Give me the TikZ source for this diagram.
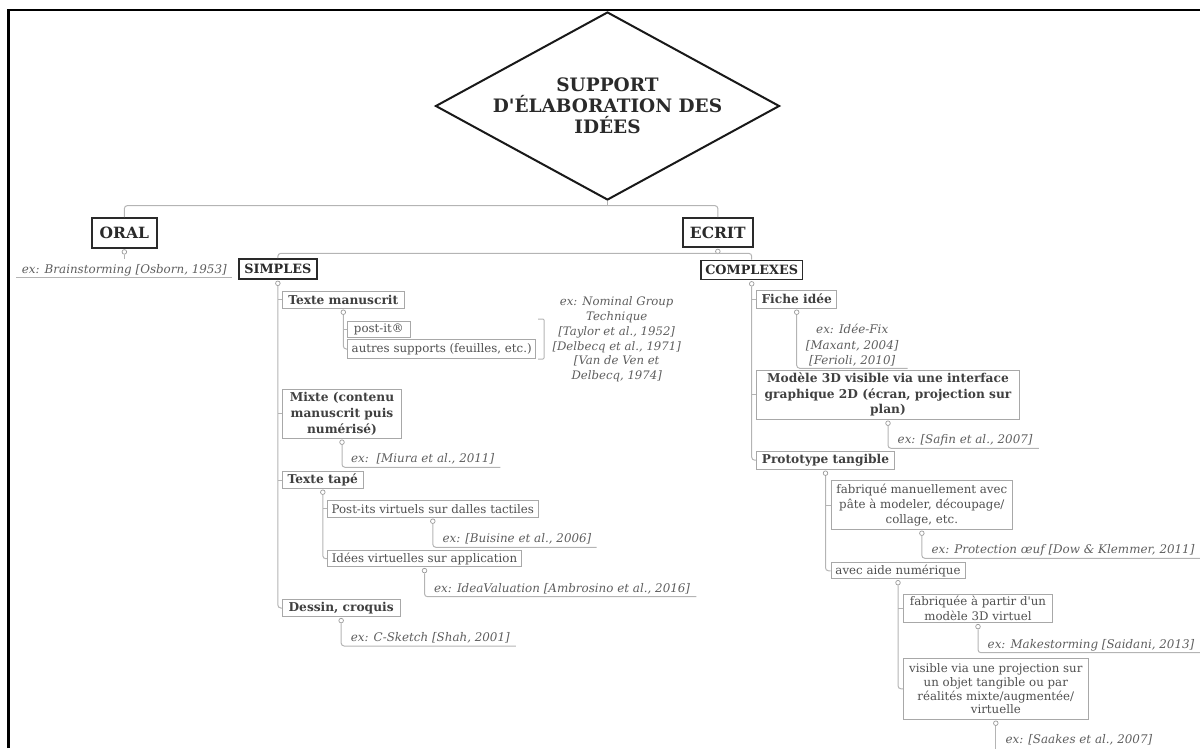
\documentclass[tikz,border=0pt]{standalone}
\usepackage{fontspec}
\setmainfont{DejaVu Serif}[Ligatures=TeXOff]
\usetikzlibrary{shapes.geometric}
\definecolor{dk}{HTML}{2A2A2A}
\definecolor{tb}{HTML}{404040}
\definecolor{tr}{HTML}{505050}
\definecolor{bx}{HTML}{A8A8A8}
\definecolor{ln}{HTML}{B4B4B4}
\definecolor{exc}{HTML}{5E5E5E}
\definecolor{dotc}{HTML}{9A9A9A}
\begin{document}
\begin{tikzpicture}[x=1pt,y=-1pt,
  mainbox/.style={draw=dk, line width=2pt, fill=white, text=dk, inner sep=0pt,
    font=\fontsize{15.5}{18}\selectfont\bfseries},
  capbox/.style={mainbox, line width=1.8pt, font=\fontsize{12.8}{15}\selectfont\bfseries},
  subb/.style={draw=bx, line width=1pt, fill=white, text=tb, inner sep=0pt, align=center,
    font=\fontsize{12.2}{15.6}\selectfont\bfseries},
  subr/.style={subb, text=tr, font=\fontsize{11.8}{14.8}\selectfont},
  extxt/.style={text=exc, font=\fontsize{11.9}{15.7}\selectfont\itshape, inner xsep=0pt,
    inner ysep=1pt, text height=9pt, text depth=3.5pt, anchor=south west},
  exmulti/.style={text=exc, inner xsep=0pt, inner ysep=1.5pt, align=center},
  conn/.style={draw=ln, line width=1pt, rounded corners=3pt},
  dotn/.style={circle, draw=dotc, fill=white, line width=0.7pt, inner sep=0pt, minimum size=4.6pt}
]
\useasboundingbox (0,0) rectangle (1200,748);
% frame
\draw[black, line width=2.6pt] (8.7,748) -- (8.7,10) -- (1200,10);

% root
\node[diamond, draw=black!90, line width=2pt, fill=white, inner sep=0pt, aspect=1.83,
  minimum width=344pt, minimum height=188pt, align=center, text=dk,
  font=\fontsize{18.5}{21}\selectfont\bfseries] (root) at (607.5,106)
  {SUPPORT\\D'ÉLABORATION DES\\IDÉES};
\coordinate (rj) at (607.5,205.6);

% level 1
\node[mainbox, minimum width=64.7pt, minimum height=29.5pt] (oral) at (124.35,232.75) {ORAL};
\node[mainbox, minimum width=69.7pt, minimum height=29pt] (ecrit) at (717.85,232.5) {ECRIT};
\node[dotn] (d-oral) at ([yshift=-3.4pt]oral.south) {};
\node[dotn] (d-ecrit) at ([yshift=-3.4pt]ecrit.south) {};
\node[text=exc, font=\fontsize{11.9}{15.7}\selectfont\itshape, inner xsep=5.5pt, inner ysep=1pt,
  text height=13pt, text depth=3.5pt, anchor=south] (e-oral) at (124.35,277.7)
  {ex: Brainstorming [Osborn, 1953]};
\coordinate (ej) at (717.85,253.3);

% level 2
\node[capbox, minimum width=77.7pt, minimum height=20pt] (simples) at (277.85,269) {SIMPLES};
\node[capbox, minimum width=101.4pt, minimum height=19pt] (complexes) at (751.7,270) {COMPLEXES};
\node[dotn] (d-simples) at ([yshift=-3.4pt]simples.south) {};
\node[dotn] (d-complexes) at ([yshift=-3.4pt]complexes.south) {};

% SIMPLES branch
\node[subb, minimum width=122pt, minimum height=17.3pt] (tm) at (343.3,299.65) {Texte manuscrit};
\node[dotn] (d-tm) at ([yshift=-3.4pt]tm.south) {};
\node[subr, minimum width=62.3pt, minimum height=16pt] (pi) at (378.85,329.5) {post-it®};
\node[subr, minimum width=188pt, minimum height=19pt] (au) at (441.7,349) {autres supports (feuilles, etc.)};
\node[exmulti, font=\fontsize{11.7}{14.7}\selectfont\itshape] (ng) at (616.7,339.5)
  {ex: Nominal Group\\Technique\\{[}Taylor et al., 1952{]}\\{[}Delbecq et al., 1971{]}\\{[}Van de Ven et\\Delbecq, 1974{]}};

\node[subb, minimum width=119.4pt, minimum height=49pt] (mx) at (342,413.8) {Mixte (contenu\\manuscrit puis\\numérisé)};
\node[dotn] (d-mx) at ([yshift=-3.4pt]mx.south) {};
\node[extxt] (e-mx) at (342,467.3) {\hspace*{9pt}ex:\ \ [Miura et al., 2011]\hspace*{6pt}};

\node[subb, minimum width=81pt, minimum height=16.6pt] (tt) at (322.8,480) {Texte tapé};
\node[dotn] (d-tt) at ([yshift=-3.4pt]tt.south) {};
\node[subr, minimum width=211pt, minimum height=17.3pt] (pv) at (432.8,508.65) {Post-its virtuels sur dalles tactiles};
\node[dotn] (d-pv) at ([yshift=-3.4pt]pv.south) {};
\node[extxt] (e-pv) at (432.8,547.3) {\hspace*{9.5pt}ex: [Buisine et al., 2006]\hspace*{5pt}};
\node[subr, minimum width=194.4pt, minimum height=16pt] (iv) at (424.5,558.7) {Idées virtuelles sur application};
\node[dotn] (d-iv) at ([yshift=-3.4pt]iv.south) {};
\node[extxt] (e-iv) at (424.5,596.7) {\hspace*{9.5pt}ex: IdeaValuation [Ambrosino et al., 2016]\hspace*{6pt}};

\node[subb, minimum width=117.7pt, minimum height=17.4pt] (dc) at (341.15,608) {Dessin, croquis};
\node[dotn] (d-dc) at ([yshift=-3.4pt]dc.south) {};
\node[extxt] (e-dc) at (341.15,646) {\hspace*{9.5pt}ex: C-Sketch [Shah, 2001]\hspace*{6pt}};

% COMPLEXES branch
\node[subb, minimum width=80pt, minimum height=18.3pt] (fi) at (796.7,299.15) {Fiche idée};
\node[dotn] (d-fi) at ([yshift=-3.4pt]fi.south) {};
\node[exmulti, font=\fontsize{11.9}{15.8}\selectfont\itshape, minimum width=110.6pt, anchor=south west] (e-fi) at (796.7,368.3)
  {ex: Idée-Fix\\{[}Maxant, 2004{]}\\{[}Ferioli, 2010{]}};

\node[subb, minimum width=262.6pt, minimum height=49.3pt, font=\fontsize{12.2}{15.7}\selectfont\bfseries] (m3) at (888,394.65)
  {Modèle 3D visible via une interface\\graphique 2D (écran, projection sur\\plan)};
\node[dotn] (d-m3) at ([yshift=-3.4pt]m3.south) {};
\node[extxt] (e-m3) at (888,448.3) {\hspace*{9.5pt}ex: [Safin et al., 2007]\hspace*{6pt}};

\node[subb, minimum width=137.6pt, minimum height=18.3pt] (pt) at (825.5,460.15) {Prototype tangible};
\node[dotn] (d-pt) at ([yshift=-3.4pt]pt.south) {};
\node[subr, minimum width=181.7pt, minimum height=48.6pt] (fm) at (921.85,505)
  {fabriqué manuellement avec\\pâte à modeler, découpage/\\collage, etc.};
\node[dotn] (d-fm) at ([yshift=-3.4pt]fm.south) {};
\node[extxt] (e-fm) at (921.85,558.3) {\hspace*{9.5pt}ex: Protection œuf [Dow \& Klemmer, 2011]\hspace*{6pt}};
\node[subr, minimum width=134pt, minimum height=16pt] (an) at (898,570.8) {avec aide numérique};
\node[dotn] (d-an) at ([yshift=-3.4pt]an.south) {};
\node[subr, minimum width=149.4pt, minimum height=28.7pt] (fp) at (978,608.35)
  {fabriquée à partir d'un\\modèle 3D virtuel};
\node[dotn] (d-fp) at ([yshift=-3.4pt]fp.south) {};
\node[extxt] (e-fp) at (978,652.7) {\hspace*{9.5pt}ex: Makestorming [Saidani, 2013]\hspace*{6pt}};
\node[subr, minimum width=185pt, minimum height=61pt, font=\fontsize{11.8}{13.8}\selectfont] (vv) at (995.8,688.8)
  {visible via une projection sur\\un objet tangible ou par\\réalités mixte/augmentée/\\virtuelle};
\node[dotn] (d-vv) at ([yshift=-3.4pt]vv.south) {};
\node[extxt] (e-vv) at (995.8,748.5) {\hspace*{9.5pt}ex: [Saakes et al., 2007]\hspace*{6pt}};

% connectors
\draw[conn] (root.south) -- (rj);
\draw[conn] (oral.north) |- (rj) -| (ecrit.north);
\draw[conn] (d-oral) -- (e-oral.north);
\draw[conn, rounded corners=0pt] (e-oral.south west) -- (e-oral.south east);
\draw[conn] (d-ecrit) -- (ej);
\draw[conn] (simples.north) |- (ej) -| (complexes.north);

\draw[conn] (d-simples) |- (dc.west);
\foreach \n in {tm,mx,tt} \draw[conn] (\n.west) -- (\n.west -| d-simples);
\draw[conn] (d-tm) |- (au.west);
\draw[conn] (pi.west) -- (pi.west -| d-tm);
\draw[conn, rounded corners=1pt] (538,319) -- (544,319) -- (544,359) -- (538,359);
\draw[conn] (d-mx) |- (e-mx.south east);
\draw[conn] (d-tt) |- (iv.west);
\draw[conn] (pv.west) -- (pv.west -| d-tt);
\draw[conn] (d-pv) |- (e-pv.south east);
\draw[conn] (d-iv) |- (e-iv.south east);
\draw[conn] (d-dc) |- (e-dc.south east);

\draw[conn] (d-complexes) |- (pt.west);
\foreach \n in {fi,m3} \draw[conn] (\n.west) -- (\n.west -| d-complexes);
\draw[conn] (d-fi) |- (e-fi.south east);
\draw[conn] (d-m3) |- (e-m3.south east);
\draw[conn] (d-pt) |- (an.west);
\draw[conn] (fm.west) -- (fm.west -| d-pt);
\draw[conn] (d-fm) |- (e-fm.south east);
\draw[conn] (d-an) |- (vv.west);
\draw[conn] (fp.west) -- (fp.west -| d-an);
\draw[conn] (d-fp) |- (e-fp.south east);
\draw[conn] (d-vv) -- (d-vv |- e-vv.south);
\end{tikzpicture}
\end{document}
